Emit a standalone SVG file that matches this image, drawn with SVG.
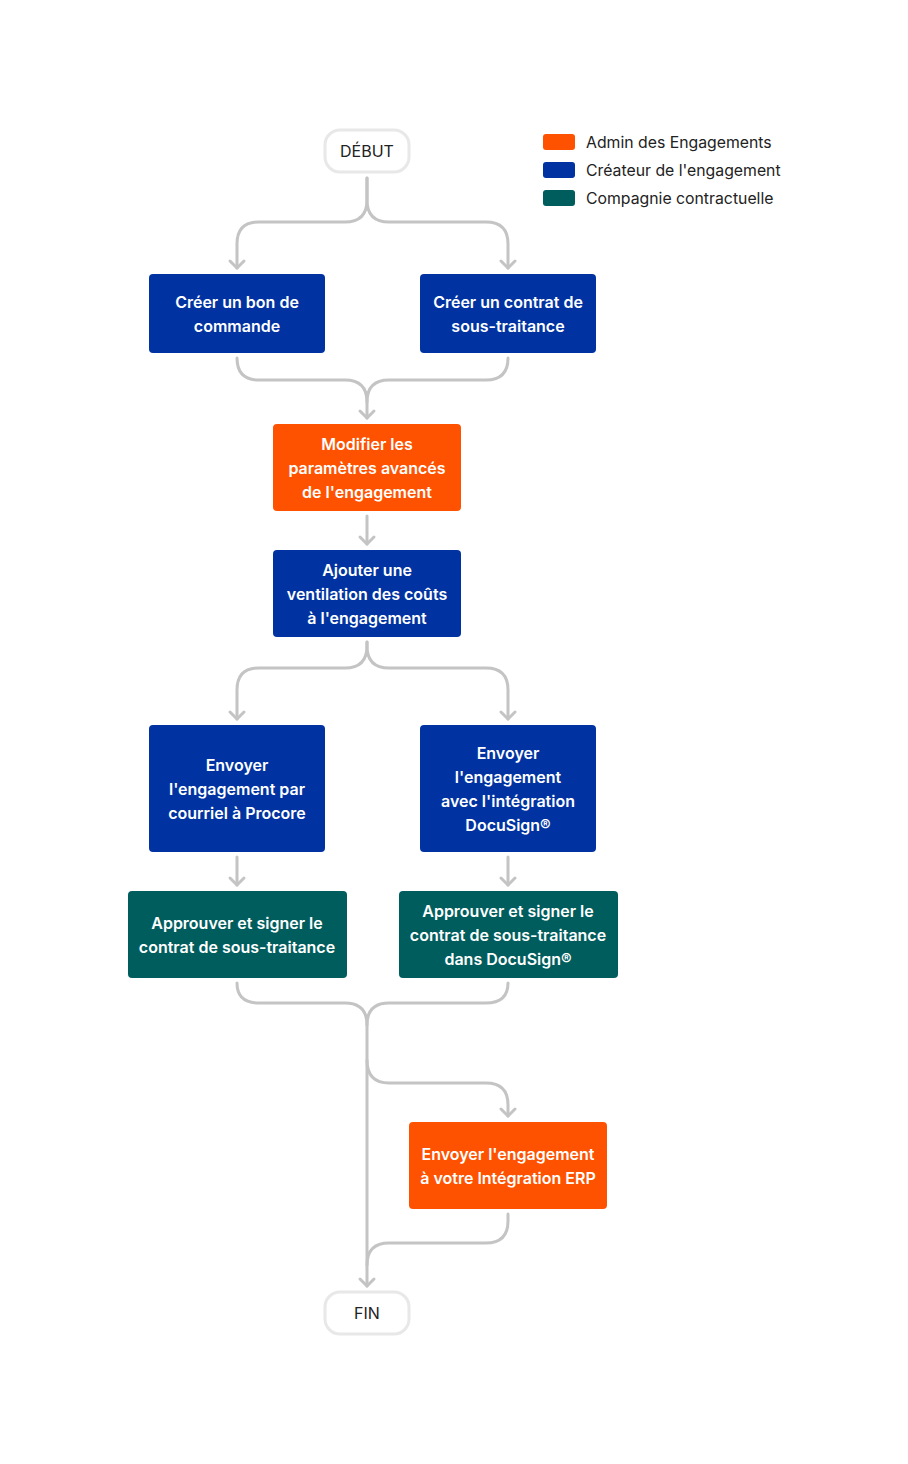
<svg xmlns="http://www.w3.org/2000/svg" width="908" height="1464" viewBox="0 0 908 1464">
<defs>
<marker id="arr" markerUnits="userSpaceOnUse" markerWidth="24" markerHeight="24" viewBox="-12 -12 24 24" refX="0" refY="0" orient="auto">
<path d="M-7,-7 L0,0 L-7,7" fill="none" stroke="#c4c4c4" stroke-width="3" stroke-linecap="round" stroke-linejoin="round"/>
</marker>
<style>
.c{fill:none;stroke:#c4c4c4;stroke-width:3;stroke-linecap:round;stroke-linejoin:round}
.t{font-family:Inter,"Liberation Sans",sans-serif;font-size:16px;font-weight:600;fill:#fff;text-anchor:middle}
.term{fill:#fff;stroke:#e8e8e8;stroke-width:3}
.tt{font-family:Inter,"Liberation Sans",sans-serif;font-size:16px;fill:#222;text-anchor:middle}
.lg{font-family:Inter,"Liberation Sans",sans-serif;font-size:15.8px;fill:#222}
.blue{fill:#0033a1}
.orange{fill:#ff5200}
.teal{fill:#005d5d}
</style>
</defs>
<rect width="908" height="1464" fill="#fff"/>
<g id="legend">
<rect x="543" y="134" width="32" height="16" rx="3" class="orange"/>
<text x="586" y="148" class="lg">Admin des Engagements</text>
<rect x="543" y="162" width="32" height="16" rx="3" class="blue"/>
<text x="586" y="176" class="lg">Créateur de l'engagement</text>
<rect x="543" y="190" width="32" height="16" rx="3" class="teal"/>
<text x="586" y="204" class="lg">Compagnie contractuelle</text>
</g>
<g id="connectors">
<path class="c" marker-end="url(#arr)" d="M367,178 V200 Q367,222 345,222 H259 Q237,222 237,244 V268"/>
<path class="c" marker-end="url(#arr)" d="M367,178 V200 Q367,222 389,222 H486 Q508,222 508,244 V268"/>
<path class="c" d="M237,358 Q237,380 259,380 H345 Q367,380 367,402"/>
<path class="c" marker-end="url(#arr)" d="M508,358 Q508,380 486,380 H389 Q367,380 367,402 V418"/>
<path class="c" marker-end="url(#arr)" d="M367,516 V544"/>
<path class="c" marker-end="url(#arr)" d="M367,642 V646 Q367,668 345,668 H259 Q237,668 237,690 V719"/>
<path class="c" marker-end="url(#arr)" d="M367,642 V646 Q367,668 389,668 H486 Q508,668 508,690 V719"/>
<path class="c" marker-end="url(#arr)" d="M237,857 V885"/>
<path class="c" marker-end="url(#arr)" d="M508,857 V885"/>
<path class="c" d="M237,983 Q237,1003 259,1003 H345 Q367,1003 367,1025"/>
<path class="c" marker-end="url(#arr)" d="M508,983 Q508,1003 486,1003 H389 Q367,1003 367,1025 V1286"/>
<path class="c" marker-end="url(#arr)" d="M367,1060 Q367,1083 389,1083 H486 Q508,1083 508,1105 V1116"/>
<path class="c" d="M508,1214 V1221 Q508,1243 486,1243 H389 Q367,1243 367,1265"/>
</g>
<g id="debut">
<rect x="325" y="130" width="84" height="42" rx="15" class="term"/>
<text x="367" y="157" class="tt">DÉBUT</text>
</g>
<g id="bon-commande">
<rect x="149" y="274" width="176" height="79" rx="4" class="blue"/>
<text x="237" y="308" class="t">Créer un bon de</text>
<text x="237" y="332" class="t">commande</text>
</g>
<g id="contrat">
<rect x="420" y="274" width="176" height="79" rx="4" class="blue"/>
<text x="508" y="308" class="t">Créer un contrat de</text>
<text x="508" y="332" class="t">sous-traitance</text>
</g>
<g id="modifier">
<rect x="273" y="424" width="188" height="87" rx="4" class="orange"/>
<text x="367" y="450" class="t">Modifier les</text>
<text x="367" y="474" class="t">paramètres avancés</text>
<text x="367" y="498" class="t">de l'engagement</text>
</g>
<g id="ajouter">
<rect x="273" y="550" width="188" height="87" rx="4" class="blue"/>
<text x="367" y="576" class="t">Ajouter une</text>
<text x="367" y="600" class="t">ventilation des coûts</text>
<text x="367" y="624" class="t">à l'engagement</text>
</g>
<g id="envoyer-courriel">
<rect x="149" y="725" width="176" height="127" rx="4" class="blue"/>
<text x="237" y="771" class="t">Envoyer</text>
<text x="237" y="795" class="t">l'engagement par</text>
<text x="237" y="819" class="t">courriel à Procore</text>
</g>
<g id="envoyer-docusign">
<rect x="420" y="725" width="176" height="127" rx="4" class="blue"/>
<text x="508" y="759" class="t">Envoyer</text>
<text x="508" y="783" class="t">l'engagement</text>
<text x="508" y="807" class="t">avec l'intégration</text>
<text x="508" y="831" class="t">DocuSign®</text>
</g>
<g id="approuver">
<rect x="128" y="891" width="219" height="87" rx="4" class="teal"/>
<text x="237" y="929" class="t">Approuver et signer le</text>
<text x="237" y="953" class="t">contrat de sous-traitance</text>
</g>
<g id="approuver-docusign">
<rect x="399" y="891" width="219" height="87" rx="4" class="teal"/>
<text x="508" y="917" class="t">Approuver et signer le</text>
<text x="508" y="941" class="t">contrat de sous-traitance</text>
<text x="508" y="965" class="t">dans DocuSign®</text>
</g>
<g id="erp">
<rect x="409" y="1122" width="198" height="87" rx="4" class="orange"/>
<text x="508" y="1160" class="t">Envoyer l'engagement</text>
<text x="508" y="1184" class="t">à votre Intégration ERP</text>
</g>
<g id="fin">
<rect x="325" y="1292" width="84" height="42" rx="15" class="term"/>
<text x="367" y="1319" class="tt">FIN</text>
</g>
</svg>
